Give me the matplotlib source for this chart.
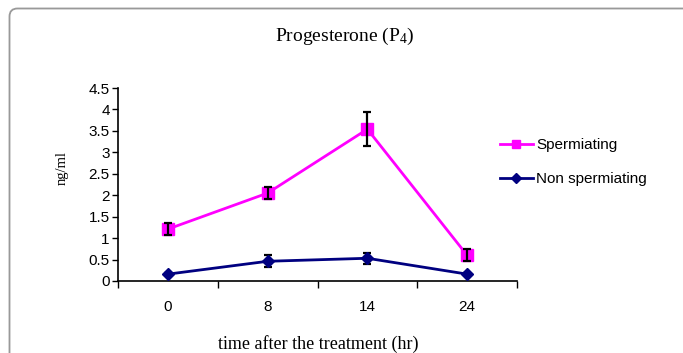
import matplotlib
matplotlib.use("Agg")
import matplotlib.pyplot as plt
from matplotlib.path import Path
from matplotlib.patches import PathPatch
from matplotlib.lines import Line2D
from matplotlib.transforms import IdentityTransform

plt.rcParams["mathtext.fontset"] = "custom"
plt.rcParams["mathtext.rm"] = "Liberation Serif"
plt.rcParams["mathtext.it"] = "Liberation Serif:italic"

categories = ["0", "8", "14", "24"]
sperm = [1.21, 2.05, 3.54, 0.60]
sperm_err = [0.14, 0.14, 0.40, 0.14]
nonsperm = [0.16, 0.46, 0.53, 0.16]
nonsperm_err = [0.02, 0.14, 0.13, 0.02]

W, H = 683, 353
fig = plt.figure(figsize=(W / 100, H / 100), dpi=100)
ax = fig.add_axes([118 / W, 1 - 281 / H, (517 - 118) / W, (281 - 88) / H])

x = list(range(len(categories)))
ax.plot(x, sperm, color="#FF00FF", lw=2, marker="s", ms=8,
        mfc="#FF00FF", mec="#FF00FF", zorder=3)
ax.plot(x, nonsperm, color="#000080", lw=2, marker="D", ms=6,
        mfc="#000080", mec="#000080", zorder=3)
ax.errorbar(x, sperm, yerr=sperm_err, fmt="none", ecolor="black", elinewidth=1.6,
            capsize=3, capthick=1.6, zorder=4)
ax.errorbar(x, nonsperm, yerr=nonsperm_err, fmt="none", ecolor="black", elinewidth=1.6,
            capsize=3, capthick=1.6, zorder=2)

ax.set_xlim(-0.5, len(categories) - 0.5)
ax.set_ylim(0, 4.5)
ax.set_yticks([0, 0.5, 1, 1.5, 2, 2.5, 3, 3.5, 4, 4.5])
ax.set_yticklabels(["0", "0.5", "1", "1.5", "2", "2.5", "3", "3.5", "4", "4.5"])
ax.set_xticks([i - 0.5 for i in range(len(categories) + 1)])
ax.set_xticklabels([])
ax.set_xticks(x, minor=True)
ax.set_xticklabels(categories, minor=True)
ax.tick_params(axis="x", which="major", length=5, width=1, direction="out")
ax.tick_params(axis="x", which="minor", length=0, pad=14)
ax.tick_params(axis="y", length=4, width=1, direction="out", pad=2)
for lab in ax.get_xticklabels(minor=True) + ax.get_yticklabels():
    lab.set_fontfamily("Liberation Sans")
    lab.set_fontsize(11)
for s in ["top", "right"]:
    ax.spines[s].set_visible(False)
for s in ["left", "bottom"]:
    ax.spines[s].set_linewidth(1.2)

fig.text(62 / W, 1 - 168 / H, "ng/ml", ha="center", va="center", rotation=90,
         fontfamily="Liberation Serif", fontsize=10.5)
fig.text(345 / W, 1 - 36 / H, "Progesterone (P$_4$)", ha="center", va="center",
         fontfamily="Liberation Serif", fontsize=14)
fig.text(318 / W, 1 - 344 / H, "time after the treatment (hr)", ha="center", va="center",
         fontfamily="Liberation Serif", fontsize=13)

handles = [
    Line2D([], [], color="#FF00FF", lw=2, marker="s", ms=6, mfc="#FF00FF", mec="#FF00FF"),
    Line2D([], [], color="#000080", lw=2, marker="D", ms=5, mfc="#000080", mec="#000080"),
]
fig.legend(handles, ["Spermiating", "Non spermiating"], loc="upper left",
           bbox_to_anchor=(500 / W, 1 - 138 / H), frameon=False,
           prop={"family": "Liberation Sans", "size": 11}, labelspacing=1.3,
           handlelength=2.15, handletextpad=0.2, borderaxespad=0, borderpad=0)

# rounded frame border
r = 8
xl, yt = 9.5, H - 8.5
verts = [(xl, -5), (xl, yt - r), (xl, yt), (xl + r, yt), (W + 5, yt)]
codes = [Path.MOVETO, Path.LINETO, Path.CURVE3, Path.CURVE3, Path.LINETO]
fig.patches.append(PathPatch(Path(verts, codes), transform=IdentityTransform(),
                             fill=False, edgecolor="#999999", lw=1.3))

fig.savefig("out.png", dpi=100)
